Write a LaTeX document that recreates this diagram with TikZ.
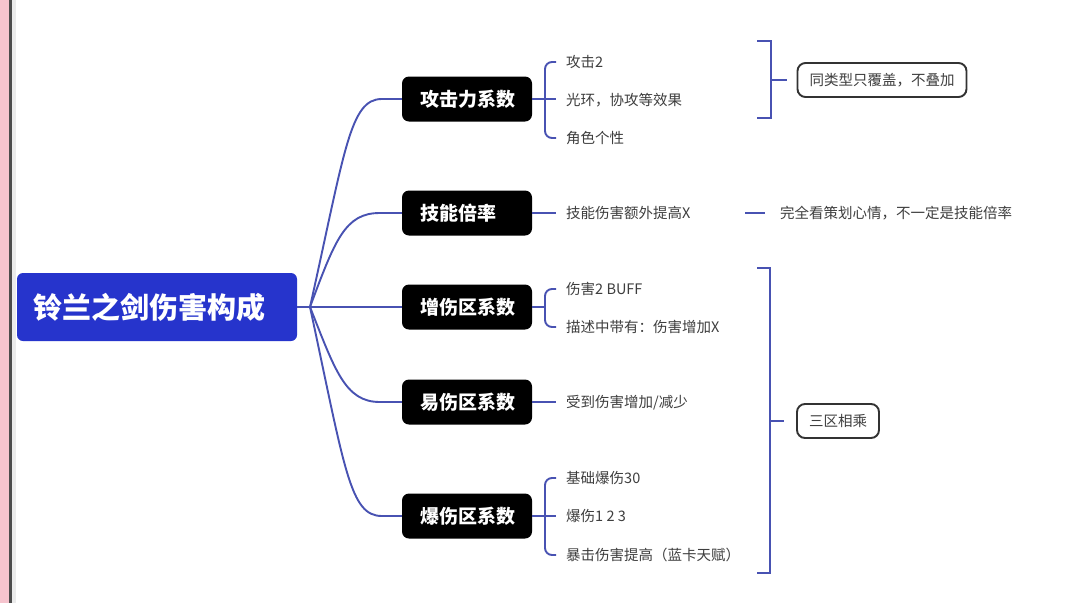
\documentclass[tikz,border=0pt]{standalone}
\usepackage{fontspec}
\setmainfont{Noto Sans CJK SC}
\usetikzlibrary{positioning, calc}
\definecolor{rootblue}{RGB}{38,52,204}
\definecolor{linkblue}{RGB}{72,82,178}
\definecolor{leafgray}{RGB}{62,62,62}
\definecolor{stripe}{RGB}{246,196,206}

\begin{document}
\begin{tikzpicture}[
    x=1pt, y=-1pt,
    rootbox/.style={fill=rootblue, text=white, rounded corners=6pt, minimum width=280pt, minimum height=68pt, text width=246pt, align=left, font=\bfseries\fontsize{29}{32}\selectfont},
    keybox/.style={fill=black, text=white, rounded corners=7pt, minimum width=130pt, minimum height=45pt, text width=94pt, align=left, font=\bfseries\fontsize{19}{22}\selectfont},
    leaf/.style={text=leafgray, anchor=west, inner sep=0pt, font=\fontsize{14.5}{17}\selectfont},
    notebox/.style={draw=black!80, line width=1.9pt, rounded corners=8pt, text=leafgray, minimum height=34pt, inner xsep=12pt, font=\fontsize{14.5}{17}\selectfont},
    link/.style={draw=linkblue, line width=1.9pt}
]
\useasboundingbox (0,0) rectangle (1080,603);
\fill[white] (0,0) rectangle (1080,603);
\fill[stripe] (0,0) rectangle (9,603);
\fill[black!70] (9,0) rectangle (12,603);
\fill[black!8] (12,0) rectangle (16,603);

% Nodes
\node[rootbox] (root) at (157,307) {铃兰之剑伤害构成};
\coordinate (hub) at (310,307);
\node[keybox] (atk) at (467,99) {攻击力系数};
\node[keybox] (skill) at (467,213) {技能倍率};
\node[keybox] (dmg) at (467,307) {增伤区系数};
\node[keybox] (vuln) at (467,402) {易伤区系数};
\node[keybox] (crit) at (467,516) {爆伤区系数};

% Leaves
\node[leaf] (atk1) at (566,62) {攻击2};
\node[leaf] (atk2) at (566,100) {光环，协攻等效果};
\node[leaf] (atk3) at (566,138) {角色个性};
\node[leaf] (skill1) at (566,213) {技能伤害额外提高X};
\node[leaf] (skill2) at (780,213) {完全看策划心情，不一定是技能倍率};
\node[leaf] (dmg1) at (566,289) {伤害2 BUFF};
\node[leaf] (dmg2) at (566,327) {描述中带有：伤害增加X};
\node[leaf] (vuln1) at (566,403) {受到伤害增加/减少};
\node[leaf] (crit1) at (566,478) {基础爆伤30};
\node[leaf] (crit2) at (566,516) {爆伤1 2 3};
\node[leaf] (crit3) at (566,555) {暴击伤害提高（蓝卡天赋）};

% Notes
\node[notebox] (same) at (882,80) {同类型只覆盖，不叠加};
\node[notebox] (mult) at (838,421) {三区相乘};

% Trunk
\draw[link] (root.east) -- (hub);
\draw[link] (hub) .. controls (345,150) and (350,99) .. ($(atk.west)+(-20,0)$) -- (atk.west);
\draw[link] (hub) .. controls (335,240) and (345,213) .. ($(skill.west)+(-22,0)$) -- (skill.west);
\draw[link] (hub) -- (dmg.west);
\draw[link] (hub) .. controls (335,370) and (345,402) .. ($(vuln.west)+(-22,0)$) -- (vuln.west);
\draw[link] (hub) .. controls (345,470) and (350,516) .. ($(crit.west)+(-20,0)$) -- (crit.west);

% Braces
\draw[link, rounded corners=7pt] ($(atk1.west)+(-10,0)$) -| ($(atk3.west)+(-21,0)$) -- ($(atk3.west)+(-10,0)$);
\draw[link] (atk.east) -- ($(atk2.west)+(-10,-1)$);
\draw[link] (skill.east) -- ($(skill1.west)+(-10,0)$);
\draw[link, rounded corners=7pt] ($(dmg1.west)+(-10,0)$) -| ($(dmg2.west)+(-21,0)$) -- ($(dmg2.west)+(-10,0)$);
\draw[link] (dmg.east) -- ($(dmg.east)+(13,0)$);
\draw[link] (vuln.east) -- ($(vuln1.west)+(-10,-1)$);
\draw[link, rounded corners=7pt] ($(crit1.west)+(-10,0)$) -| ($(crit3.west)+(-21,0)$) -- ($(crit3.west)+(-10,0)$);
\draw[link] (crit.east) -- ($(crit2.west)+(-10,0)$);

% Brackets
\draw[link] (757,41) -- (771,41) -- (771,118) -- (757,118);
\draw[link] (771,80) -- ($(same.west)+(-10,0)$);
\draw[link] ($(skill2.west)+(-35,0)$) -- ($(skill2.west)+(-15,0)$);
\draw[link] (757,268) -- (770,268) -- (770,573) -- (757,573);
\draw[link] (770,421) -- ($(mult.west)+(-12,0)$);

\end{tikzpicture}
\end{document}
